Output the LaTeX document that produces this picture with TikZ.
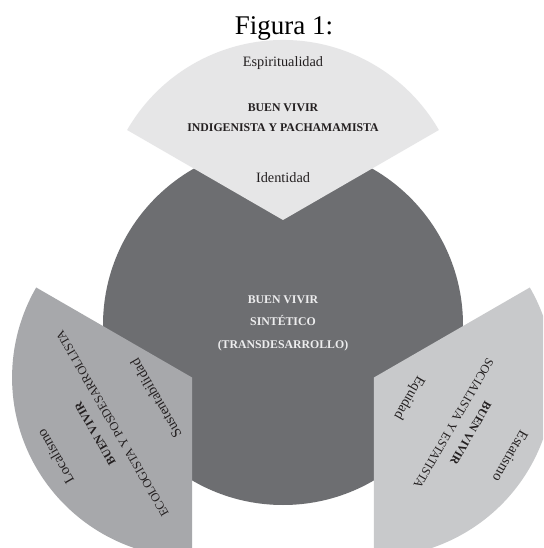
\documentclass[tikz,border=0pt]{standalone}
\usepackage{fontspec}
\setmainfont{Liberation Serif}
\definecolor{circlegray}{HTML}{6D6E71}
\definecolor{topgray}{HTML}{E6E6E7}
\definecolor{leftgray}{HTML}{A7A8AB}
\definecolor{rightgray}{HTML}{C8C9CB}
\definecolor{txtdark}{HTML}{231F20}
\definecolor{txtlight}{HTML}{EDEDEE}
\begin{document}
\begin{tikzpicture}[x=1pt,y=1pt,
  lbl/.style={font=\fontsize{14.3}{16}\selectfont, text=txtdark, anchor=base, inner sep=0pt},
  ttl/.style={font=\fontsize{11.8}{14}\selectfont\bfseries, text=txtdark, anchor=base, inner sep=0pt},
  sub/.style={font=\fontsize{12.3}{14}\selectfont, text=txtdark, anchor=base, inner sep=0pt},
  ctr/.style={font=\fontsize{11.8}{14}\selectfont\bfseries, text=txtlight, anchor=base, inner sep=0pt},
  sector/.style={fill=#1}]
\path[use as bounding box] (-283,-223) rectangle (260,325);
\clip (-283,-223) rectangle (260,325);
\fill[white] (-283,-223) rectangle (260,325);
\node[font=\fontsize{27}{30}\selectfont, anchor=base, inner sep=0pt] (title) at (1,290) {Figura 1:};
% central circle
\fill[circlegray] (0,0) circle[radius=180];
\node[ctr] (c1) at (0,21) {BUEN VIVIR};
\node[ctr] (c2) at (0,-1) {SINTÉTICO};
\node[ctr] (c3) at (0,-24) {(TRANSDESARROLLO)};
% top sector
\fill[sector=topgray] (0,105) -- ++(150:180) arc[start angle=150,end angle=30,radius=180] -- cycle;
\node[lbl] (t1) at (0,258) {Espiritualidad};
\node[ttl] (t2) at (0,213) {BUEN VIVIR};
\node[ttl] (t3) at (0,193) {INDIGENISTA Y PACHAMAMISTA};
\node[lbl] (t4) at (0,142) {Identidad};
% left sector
\begin{scope}[rotate=120, transform shape]
\fill[sector=leftgray] (0,105) -- ++(150:180) arc[start angle=150,end angle=30,radius=180] -- cycle;
\node[lbl] (l1) at (0,258) {Localismo};
\node[ttl] (l2) at (0,213) {BUEN VIVIR};
\node[sub] (l3) at (0,193) {ECOLOGISTA Y POSDESARROLLISTA};
\node[lbl] (l4) at (0,142) {Sustentabilidad};
\end{scope}
% right sector
\begin{scope}[rotate=-120, transform shape]
\fill[sector=rightgray] (0,105) -- ++(150:180) arc[start angle=150,end angle=30,radius=180] -- cycle;
\node[lbl] (r1) at (0,258) {Estatismo};
\node[ttl] (r2) at (0,213) {BUEN VIVIR};
\node[sub] (r3) at (0,193) {SOCIALISTA Y ESTATISTA};
\node[lbl] (r4) at (0,142) {Equidad};
\end{scope}
\end{tikzpicture}
\end{document}
